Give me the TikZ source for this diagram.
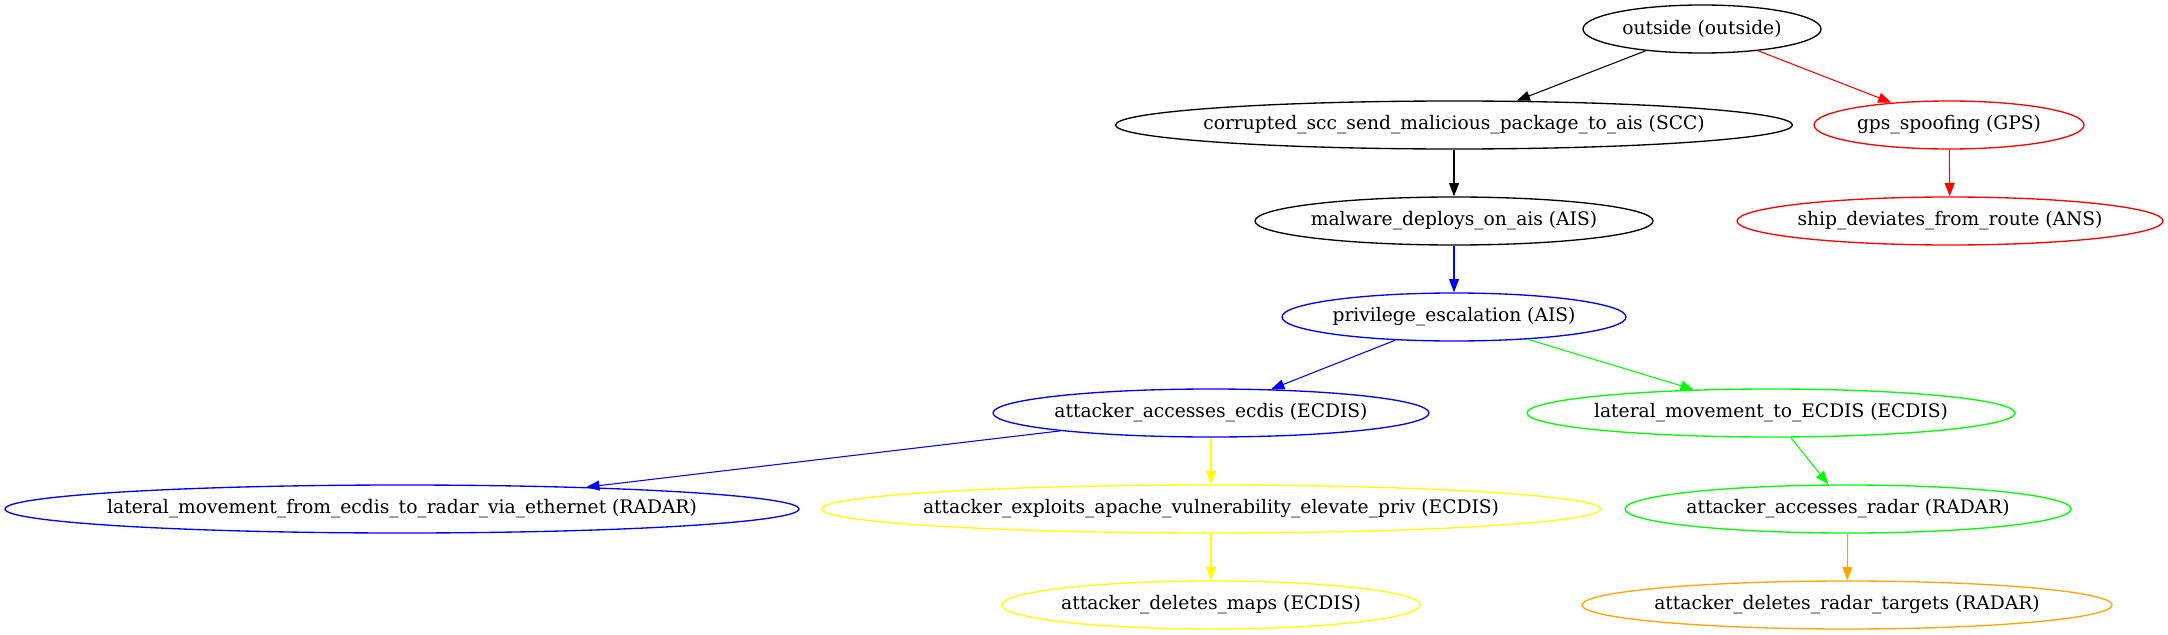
\documentclass[tikz,border=0pt]{standalone}
\usepackage{fontspec}
\setmainfont{DejaVu Serif}
\usetikzlibrary{shapes.geometric,arrows.meta}
\definecolor{gvred}{HTML}{FF0000}
\definecolor{gvblue}{HTML}{0000FF}
\definecolor{gvgreen}{HTML}{00FF00}
\definecolor{gvyellow}{HTML}{FFFF00}
\definecolor{gvorange}{HTML}{FFA500}
\newcommand{\lb}[1]{\makebox[0pt]{#1}}
\begin{document}
\begin{tikzpicture}[x=0.75pt,y=-0.75pt,
  gn/.style={ellipse,draw=#1,line width=1pt,inner sep=0pt,minimum height=36pt,
    font=\fontsize{14}{16}\selectfont},
  ew/.style={minimum width=#1*0.75pt},
  link/.style={draw=#1,line width=0.8pt,-{Triangle[length=10pt,width=7.5pt]}}]

      \useasboundingbox (0,0) rectangle (2168,635);

      % top
      \node[gn=black,ew=238] (outside) at (1702,29) {\lb{outside (outside)}};
      \node[gn=black,ew=677] (scc) at (1454,125) {\lb{corrupted\_scc\_send\_malicious\_package\_to\_ais (SCC)}};
      \node[gn=gvred,ew=270] (gps) at (1949,125) {\lb{gps\_spoofing (GPS)}};
      \node[gn=black,ew=398] (malware) at (1454,221) {\lb{malware\_deploys\_on\_ais (AIS)}};
      \node[gn=gvred,ew=426] (ship) at (1950,221) {\lb{ship\_deviates\_from\_route (ANS)}};
      \node[gn=gvblue,ew=344] (priv) at (1454,317) {\lb{privilege\_escalation (AIS)}};

      % ecdis
      \node[gn=gvblue,ew=436] (ecdis) at (1211,413) {\lb{attacker\_accesses\_ecdis (ECDIS)}};
      \node[gn=gvgreen,ew=488] (latecdis) at (1771,413) {\lb{lateral\_movement\_to\_ECDIS (ECDIS)}};
      \node[gn=gvblue,ew=794] (latradar) at (402,509) {\lb{lateral\_movement\_from\_ecdis\_to\_radar\_via\_ethernet (RADAR)}};
      \node[gn=gvyellow,ew=779] (apache) at (1211,509) {\lb{attacker\_exploits\_apache\_vulnerability\_elevate\_priv (ECDIS)}};
      \node[gn=gvgreen,ew=446] (radar) at (1848,509) {\lb{attacker\_accesses\_radar (RADAR)}};

      % bottom
      \node[gn=gvyellow,ew=418] (maps) at (1211,605) {\lb{attacker\_deletes\_maps (ECDIS)}};
      \node[gn=gvorange,ew=530] (targets) at (1847,605) {\lb{attacker\_deletes\_radar\_targets (RADAR)}};

      \foreach \a/\b/\c in {outside/scc/black, outside/gps/gvred, scc/malware/black,
        gps/ship/gvred, malware/priv/gvblue, priv/ecdis/gvblue, priv/latecdis/gvgreen,
        ecdis/latradar/gvblue, ecdis/apache/gvyellow, latecdis/radar/gvgreen,
        apache/maps/gvyellow, radar/targets/gvorange}
      { \draw[link=\c] (\a) -- (\b); }
\end{tikzpicture}
\end{document}
